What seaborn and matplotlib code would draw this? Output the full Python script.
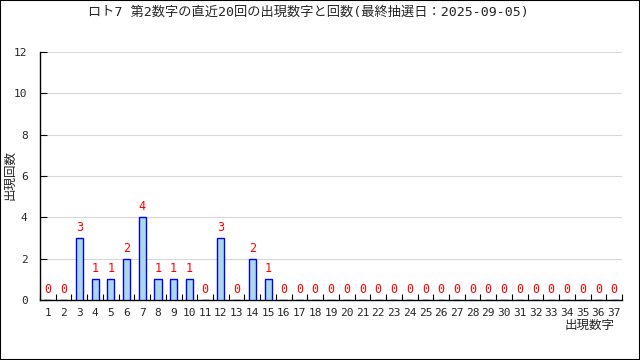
import numpy as np
import pandas as pd
import seaborn as sns
import matplotlib.pyplot as plt
from matplotlib.patches import Rectangle

# データ
numbers = list(range(1, 38))
counts = [0, 0, 3, 1, 1, 2, 4, 1, 1, 1, 0, 3, 0, 2, 1] + [0] * 22
title = "ロト7 第2数字の直近20回の出現数字と回数(最終抽選日：2025-09-05)"
xlabel = "出現数字"
ylabel = "出現回数"

df = pd.DataFrame({"num": [str(n) for n in numbers], "count": counts})

sns.set_style("white")
plt.rcParams["font.family"] = ["DejaVu Sans Mono", "Noto Sans CJK JP"]
jp = ["DejaVu Sans Mono", "Noto Sans CJK JP"]

fig = plt.figure(figsize=(6.4, 3.6), dpi=100)
ax = fig.add_axes([40 / 640, 60 / 360, 582 / 640, 248 / 360])

sns.barplot(data=df, x="num", y="count", color="#add8e6", edgecolor="blue",
            linewidth=1, width=0.45, saturation=1, ax=ax, zorder=3)

for i, c in enumerate(counts):
    ax.text(i, c + 0.2, str(c), color="red", ha="center", va="bottom",
            fontsize=8.5, zorder=4)

ax.set_xlim(-0.5, 36.5)
ax.set_ylim(0, 12)
ax.set_yticks(range(0, 13, 2))
ax.yaxis.grid(True, color="#d8d8d8", linewidth=0.8, zorder=0)
ax.set_xticks(np.arange(-0.5, 37, 1), minor=True)
ax.tick_params(bottom=True, left=True, which="both")
ax.tick_params(axis="x", which="major", length=0, labelsize=8, pad=6)
ax.tick_params(axis="x", which="minor", direction="in", length=4, width=0.8, color="black")
ax.tick_params(axis="y", which="major", direction="in", length=5, width=0.8,
               labelsize=8, pad=9, color="black")
for s in ["top", "right"]:
    ax.spines[s].set_visible(False)
for s in ["left", "bottom"]:
    ax.spines[s].set_color("black")
    ax.spines[s].set_linewidth(1)

ax.set_xlabel("")
ax.set_ylabel("")
fig.text(308 / 640, 1 - 12 / 360, title, ha="center", va="center", fontsize=9.5, family=jp)
fig.text(590 / 640, 1 - 325 / 360, xlabel, ha="center", va="center", fontsize=9, family=jp)
fig.text(10 / 640, 1 - 175 / 360, ylabel, ha="center", va="center", fontsize=9,
         rotation=90, family=jp)

fig.patches.append(Rectangle((0, 0), 1, 1, transform=fig.transFigure, fill=False,
                             edgecolor="black", linewidth=1.5))

fig.savefig("out.png", dpi=100)
